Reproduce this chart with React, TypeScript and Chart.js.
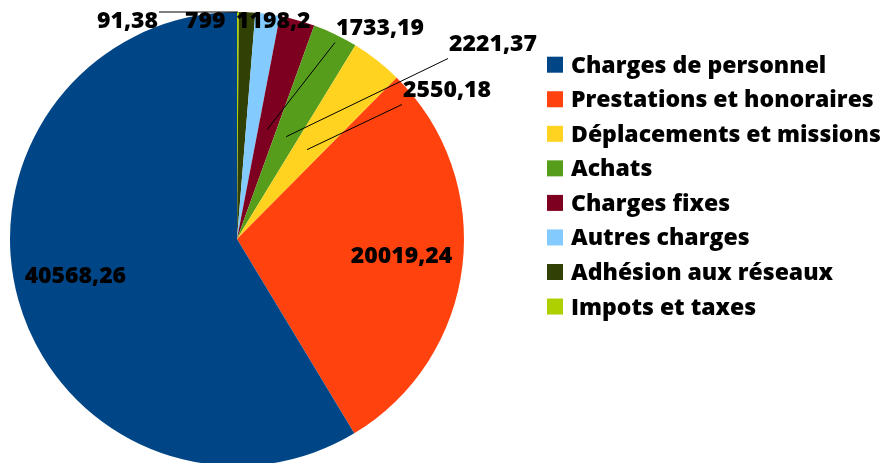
import React, { useEffect, useRef } from "react";
import { Chart, registerables } from "chart.js";

Chart.register(...registerables);

// Categories in legend order
const categories = [
  "Charges de personnel",
  "Prestations et honoraires",
  "Déplacements et missions",
  "Achats",
  "Charges fixes",
  "Autres charges",
  "Adhésion aux réseaux",
  "Impots et taxes",
];
const values = [40568.26, 20019.24, 2550.18, 2221.37, 1733.19, 1198.2, 799, 91.38];
const colors = ["#004586", "#ff420e", "#ffd320", "#579d1c", "#7e0021", "#83caff", "#314004", "#aecf00"];

// Label placement (legend order): inside (with nudge), or outside at offset from pie centre with leader line type
const labelPlacement: Array<{ mode: "in" | "out"; dx?: number; dy?: number; line?: "inner" | "outer" | "none" }> = [
  { mode: "in", dx: -2, dy: -7 },
  { mode: "in", dx: 0, dy: -2 },
  { mode: "out", dx: 166, dy: -142, line: "inner" },
  { mode: "out", dx: 212, dy: -188, line: "inner" },
  { mode: "out", dx: 99, dy: -204, line: "inner" },
  { mode: "out", dx: -1, dy: -211, line: "none" },
  { mode: "out", dx: -52, dy: -211, line: "none" },
  { mode: "out", dx: -140, dy: -211, line: "outer" },
];

const FONT = "800 23px 'Open Sans'";
const fmt = (v: number) => String(v).replace(".", ",");

const labelsPlugin = {
  id: "pieLabels",
  afterDraw(chart: any) {
    const ctx = chart.ctx;
    const meta = chart.getDatasetMeta(0);
    const n = categories.length;
    ctx.save();
    ctx.font = FONT;
    ctx.fillStyle = "#000";
    ctx.strokeStyle = "#000";
    ctx.lineWidth = 1;
    const geom = (i: number) => {
      const arc = meta.data[n - 1 - i];
      const { x, y, startAngle, endAngle, outerRadius } = arc.getProps(
        ["x", "y", "startAngle", "endAngle", "outerRadius"],
        true
      );
      return { x, y, mid: (startAngle + endAngle) / 2, r: outerRadius };
    };
    // leader lines
    for (let i = 0; i < n; i++) {
      const p = labelPlacement[i];
      const { x, y, mid, r } = geom(i);
      if (p.mode === "out" && p.line !== "none") {
        const text = fmt(values[i]);
        const w = ctx.measureText(text).width;
        const tx = x + (p.dx as number);
        const ty = y + (p.dy as number);
        ctx.beginPath();
        if (p.line === "inner") {
          ctx.moveTo(tx - 1, ty + 7.5);
          ctx.lineTo(x + Math.cos(mid) * r * 0.5, y + Math.sin(mid) * r * 0.5);
        } else {
          const ox = x + Math.cos(mid) * r;
          const oy = y + Math.sin(mid) * r;
          ctx.moveTo(tx + w + 1, oy);
          ctx.lineTo(ox, oy);
        }
        ctx.stroke();
      }
    }
    // texts
    for (let i = 0; i < n; i++) {
      const p = labelPlacement[i];
      const { x, y, mid, r } = geom(i);
      const text = fmt(values[i]);
      if (p.mode === "in") {
        ctx.textAlign = "center";
        ctx.textBaseline = "middle";
        ctx.fillText(
          text,
          x + Math.cos(mid) * r * 0.73 + (p.dx || 0),
          y + Math.sin(mid) * r * 0.73 + (p.dy || 0)
        );
      } else {
        ctx.textAlign = "left";
        ctx.textBaseline = "alphabetic";
        ctx.fillText(text, x + (p.dx as number), y + (p.dy as number));
      }
    }
    // legend
    const lx = 547;
    const ly = 64.7;
    const step = 34.55;
    for (let i = 0; i < n; i++) {
      const cy = ly + i * step;
      ctx.fillStyle = colors[i];
      ctx.fillRect(lx, cy - 8, 16, 16);
      ctx.fillStyle = "#000";
      ctx.textAlign = "left";
      ctx.textBaseline = "alphabetic";
      ctx.fillText(categories[i], lx + 24, cy + 8);
    }
    ctx.restore();
  },
};

export default function App() {
  const ref = useRef<HTMLCanvasElement | null>(null);
  useEffect(() => {
    const canvas = ref.current;
    if (!canvas) return;
    const rev = <T,>(a: T[]) => a.slice().reverse();
    const chart = new Chart(canvas, {
      type: "pie",
      data: {
        labels: rev(categories),
        datasets: [
          {
            data: rev(values),
            backgroundColor: rev(colors),
            borderWidth: 0,
            hoverOffset: 0,
          },
        ],
      },
      options: {
        responsive: false,
        animation: false,
        devicePixelRatio: 1,
        radius: 227,
        layout: { padding: { left: 10, top: 12, right: 418, bottom: 14 } },
        plugins: {
          legend: { display: false },
          tooltip: { enabled: false },
        },
        events: [],
      } as any,
      plugins: [labelsPlugin],
    });
    return () => chart.destroy();
  }, []);
  return (
    <div style={{ position: "absolute", left: 0, top: 0, width: 882, height: 463, overflow: "hidden", background: "#fff" }}>
      <canvas ref={ref} width={882} height={480} style={{ display: "block" }} />
    </div>
  );
}
